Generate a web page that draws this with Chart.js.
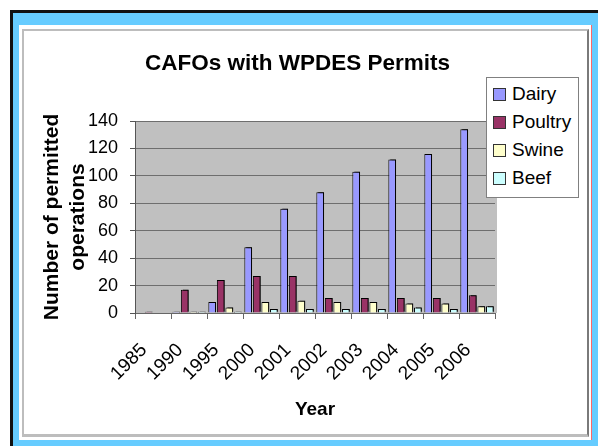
<!DOCTYPE html>
<html>
<head>
<meta charset="utf-8">
<script src="https://cdn.jsdelivr.net/npm/chart.js@4"></script>
<style>
  body { margin: 0; background: #fff; width: 598px; height: 446px; overflow: hidden; position: relative; font-family: "Liberation Sans", Arial, sans-serif; }
  #frame { position: absolute; left: 10px; top: 10px; width: 600px; height: 450px; background: #66ccff; border-left: 3px solid #111; border-top: 3px solid #111; }
  #panel { position: absolute; left: 19px; top: 25px; width: 572px; height: 415px; background: #fff; border-right: 1px solid #ff6666; }
  #box { position: absolute; left: 22px; top: 29px; width: 563px; height: 403px; border: 2px solid #bdbdbd; border-right-color: #7a7a7a; border-bottom-width: 3px; }
  #title { position: absolute; left: 0; width: 595px; top: 50px; text-align: center; font-weight: bold; font-size: 22.5px; color: #000; }
  #legend { position: absolute; left: 486px; top: 77px; width: 91px; height: 117px; padding-top: 2px; border: 1px solid #808080; background: #fff; }
  .item { height: 28px; line-height: 28px; font-size: 19px; position: relative; padding-left: 25px; color: #000; }
  .item span { position: absolute; left: 6px; top: 8px; width: 11px; height: 11px; border: 1px solid #333; }
  canvas { position: absolute; left: 0; top: 0; }
</style>
</head>
<body>
<div id="frame"></div>
<div id="panel"></div>
<div id="box"></div>
<canvas id="cafoChart" width="598" height="446"></canvas>
<div id="title">CAFOs with WPDES Permits</div>
<div id="legend"></div>
<script>
// Values
const years = ['1985', '1990', '1995', '2000', '2001', '2002', '2003', '2004', '2005', '2006'];
const dairy = [0, 1, 8, 48, 76, 88, 103, 112, 116, 134];
const poultry = [1, 17, 24, 27, 27, 11, 11, 11, 11, 13];
const swine = [0, 1, 4, 8, 9, 8, 8, 7, 7, 5];
const beef = [0, 1, 1, 3, 3, 3, 3, 4, 3, 5];
const yTicks = [0, 20, 40, 60, 80, 100, 120, 140];

const seriesNames = ['Dairy', 'Poultry', 'Swine', 'Beef'];
const seriesColors = ['#9999ff', '#993366', '#ffffcc', '#ccffff'];
const seriesData = [dairy, poultry, swine, beef];

const datasets = seriesNames.map((name, i) => ({
    label: name,
    data: seriesData[i],
    backgroundColor: seriesColors[i],
    borderColor: '#000',
    borderWidth: 1,
    borderSkipped: 'bottom',
    categoryPercentage: 0.95,
    barPercentage: 0.9
}));

// legend as plain html, same look as the excel one
const legendDiv = document.getElementById('legend');
seriesNames.forEach((name, i) => {
    const row = document.createElement('div');
    row.className = 'item';
    row.innerHTML = '<span style="background:' + seriesColors[i] + '"></span>' + name;
    legendDiv.appendChild(row);
});

// grey plot background and a dark side on every bar
const excelLook = {
    id: 'excelLook',
    beforeDraw(chart) {
        const a = chart.chartArea;
        chart.ctx.save();
        chart.ctx.fillStyle = '#c0c0c0';
        chart.ctx.fillRect(a.left, a.top, a.right - a.left + 2, a.bottom - a.top);
        chart.ctx.restore();
    },
    beforeDatasetsDraw(chart) {
        const ctx = chart.ctx;
        ctx.save();
        ctx.shadowColor = '#000';
        ctx.shadowOffsetX = 2;
        ctx.shadowOffsetY = -1;
        ctx.shadowBlur = 0;
    },
    afterDatasetsDraw(chart) {
        chart.ctx.restore();
    }
};

const ctx = document.getElementById('cafoChart').getContext('2d');

new Chart(ctx, {
    type: 'bar',
    data: { labels: years, datasets: datasets },
    plugins: [excelLook],
    options: {
        responsive: false,
        animation: false,
        layout: { padding: { left: 22, top: 121, right: 103, bottom: 10 } },
        plugins: {
            legend: { display: false },
            title: { display: false },
            tooltip: { enabled: false }
        },
        scales: {
            x: {
                afterFit(scale) { scale.height = 446 - 10 - 313; },
                grid: {
                    offset: true,
                    drawOnChartArea: false,
                    tickLength: 6,
                    tickColor: '#666'
                },
                border: { color: '#666', width: 1 },
                ticks: {
                    autoSkip: false,
                    minRotation: 45,
                    maxRotation: 45,
                    padding: 20,
                    labelOffset: -9,
                    color: '#000',
                    font: { family: 'Liberation Sans', size: 19 }
                },
                title: {
                    display: true,
                    text: 'Year',
                    color: '#000',
                    font: { family: 'Liberation Sans', size: 19, weight: 'bold' },
                    padding: { top: 0, bottom: 15 }
                }
            },
            y: {
                min: 0,
                max: 140,
                afterFit(scale) { scale.width = 135 - 22; },
                afterBuildTicks(scale) { scale.ticks = yTicks.map(v => ({ value: v })); },
                grid: {
                    color: '#6e6e6e',
                    lineWidth: 1,
                    tickLength: 5,
                    tickColor: '#555'
                },
                border: { color: '#555', width: 1 },
                ticks: {
                    padding: 12,
                    color: '#000',
                    font: { family: 'Liberation Sans', size: 18 }
                },
                title: {
                    display: true,
                    text: ['Number of permitted', 'operations'],
                    color: '#000',
                    font: { family: 'Liberation Sans', size: 21, weight: 'bold', lineHeight: 1.25 },
                    padding: { top: 17, bottom: 0 }
                }
            }
        }
    }
});
</script>
</body>
</html>
